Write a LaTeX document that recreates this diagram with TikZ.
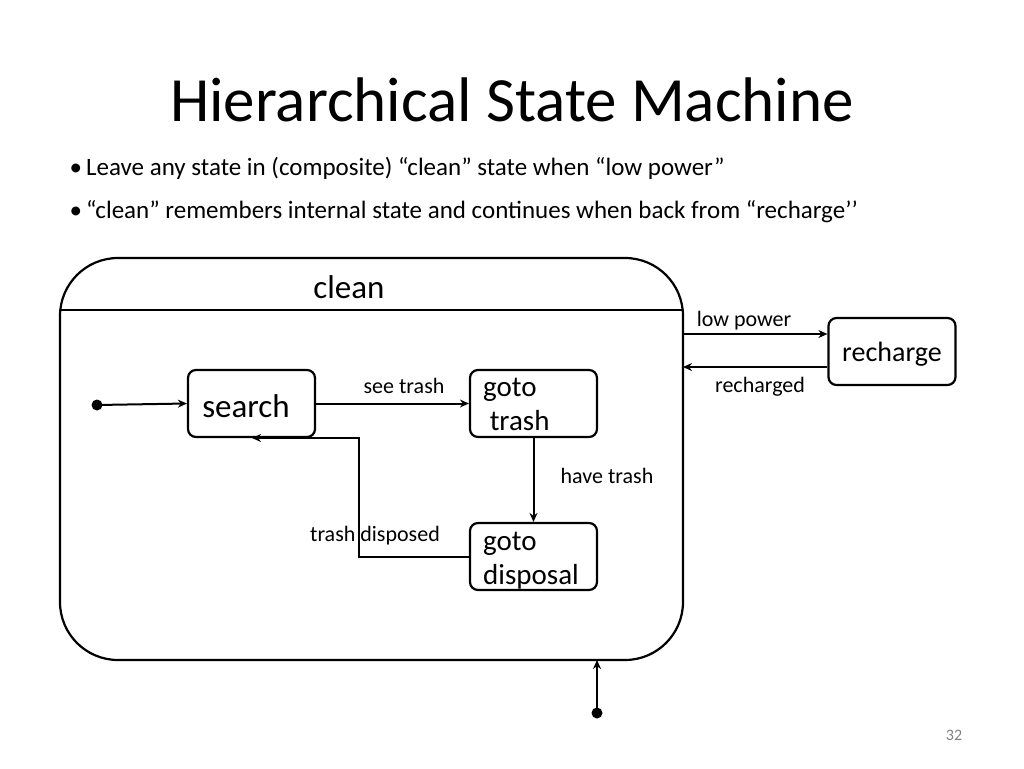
\documentclass[tikz,border=0pt]{standalone}
\usepackage{fontspec}
\setmainfont{Carlito}
\usetikzlibrary{arrows.meta}
\begin{document}
\begin{tikzpicture}[x=1pt,y=-1pt,
  st/.style={draw,line width=2.2pt,rounded corners=8pt,minimum width=127pt,minimum height=67pt,inner sep=0pt},
  conn/.style={line width=2pt,-{Stealth[length=9pt,width=8pt]}},
  lbl/.style={font=\fontsize{22}{26}\selectfont},
  gl/.style={anchor=base west,inner sep=0pt,font=\fontsize{29}{34}\selectfont},
  dot/.style={circle,fill,inner sep=0pt,minimum size=11pt}]
\useasboundingbox (0,0) rectangle (1024,768);
\node (title) at (512,100) {\fontsize{63}{70}\selectfont Hierarchical State Machine};
\node[anchor=west,font=\fontsize{25}{30}\selectfont] (b1) at (66,168) {\textbullet\,Leave any state in (composite) “clean” state when “low power”};
\node[anchor=west,font=\fontsize{25}{30}\selectfont] (b2) at (66,212) {\textbullet\,“clean” remembers internal state and continues when back from “recharge’’};
\draw[line width=2.2pt,rounded corners=58pt] (60,258) rectangle (683,660);
\draw[line width=2pt] (60,310) -- (683,310);
\node (clean) at (349,287) {\fontsize{33}{38}\selectfont clean};
\node[st] (rech) at (892,351.5) {};
\node at (892,354) {\fontsize{28}{32}\selectfont recharge};
\node[st] (search) at (251.5,403.5) {};
\node at (246,406) {\fontsize{33}{38}\selectfont search};
\node[st] (gt) at (533.5,403.5) {};
\node[gl] at (483,396) {goto};
\node[gl] at (483,430) {\ trash};
\node[st] (gd) at (533.5,556.5) {};
\node[gl] at (483,550) {goto};
\node[gl] at (483,584) {disposal};
\node[dot] (i1) at (97,405) {};
\node[dot] (i2) at (597,713) {};
\coordinate (cr1) at (683,334);
\coordinate (cr2) at (683,367);
\coordinate (cb) at (597,660);
\draw[conn] (cr1) -- (rech.west |- cr1);
\draw[conn] (rech.west |- cr2) -- (cr2);
\node[lbl] at (744,321) {low power};
\node[lbl] at (760,387) {recharged};
\draw[conn] (i1.center) -- (search.west);
\draw[conn] (search.east) -- (gt.west);
\node[lbl] at (404,386) {see trash};
\draw[conn] (gt.south) -- (gd.north);
\node[lbl] at (607,476) {have trash};
\draw[conn] (gd.west) -- (359,556.5) -- (359,438) -- (252,438);
\node[lbl] at (375,536) {trash disposed};
\draw[conn] (i2.center) -- (cb);
\node[text=gray,font=\fontsize{16}{18}\selectfont] at (954,735) {32};
\end{tikzpicture}
\end{document}
